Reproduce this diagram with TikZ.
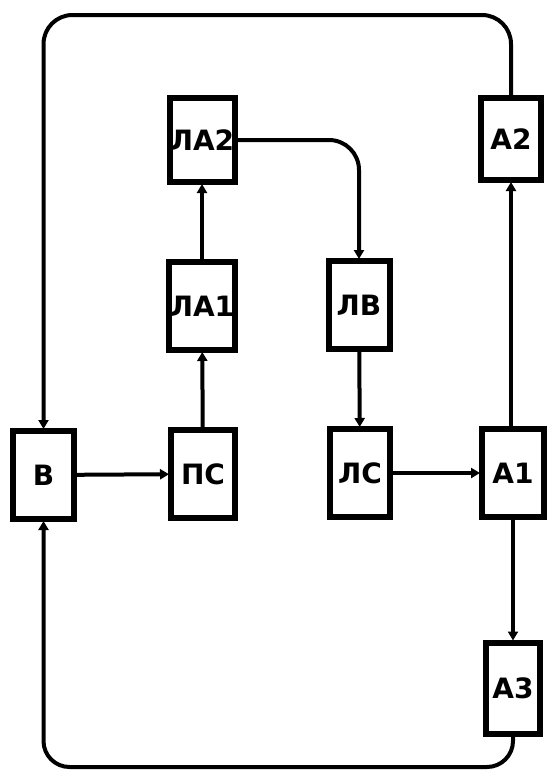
\documentclass[tikz,border=0pt]{standalone}
\usepackage{fontspec}
\setmainfont{DejaVu Sans}
\usetikzlibrary{arrows.meta}
\begin{document}
\begin{tikzpicture}[x=1pt,y=-1pt,
  blk/.style={draw=black, line width=6pt, fill=white, minimum width=61pt, minimum height=88pt, inner sep=0pt, font=\fontsize{28}{32}\selectfont\bfseries},
  wire/.style={line width=4pt, draw=black},
  arr/.style={wire, -{Triangle[length=9pt,width=10pt]}, shorten >=-1pt}]
\fill[white] (0,0) rectangle (549,771);
\useasboundingbox (0,0) rectangle (549,771);
\node[blk] (B)   at (43.5,475) {В};
\node[blk, minimum width=64pt] (PS)  at (203,474) {ПС};
\node[blk, minimum width=60pt] (LS)  at (360,473) {ЛС};
\node[blk, minimum width=62pt] (A1)  at (513,473) {А1};
\node[blk, minimum width=66pt] (LA1) at (202,306) {ЛА1};
\node[blk, minimum width=61pt] (LV)  at (359,305) {ЛВ};
\node[blk, minimum width=65pt, minimum height=84pt] (LA2) at (202,140) {ЛА2};
\node[blk, minimum width=60pt, minimum height=82pt] (A2)  at (511,139) {А2};
\node[blk, minimum width=54pt, minimum height=91pt] (A3)  at (513,688) {А3};
\draw[arr] (B) -- (PS);
\draw[arr] (LS) -- (A1);
\draw[arr] (PS) -- (LA1);
\draw[arr] (LA1) -- (LA2);
\draw[arr] (LV) -- (LS);
\draw[arr] (A1.north -| A2) -- (A2.south);
\draw[arr] (A1) -- (A3);
\draw[arr, rounded corners=30pt] (LA2.east) -- (LV.north |- LA2.east) -- (LV.north);
\draw[arr, rounded corners=29pt] (A2.north) -- (A2.north |- 0,15) -- (B.north |- 0,15) -- (B.north);
\draw[arr, rounded corners=26pt] (A3.south) -- (A3.south |- 0,767) -- (B.south |- 0,767) -- (B.south);
\end{tikzpicture}
\end{document}
